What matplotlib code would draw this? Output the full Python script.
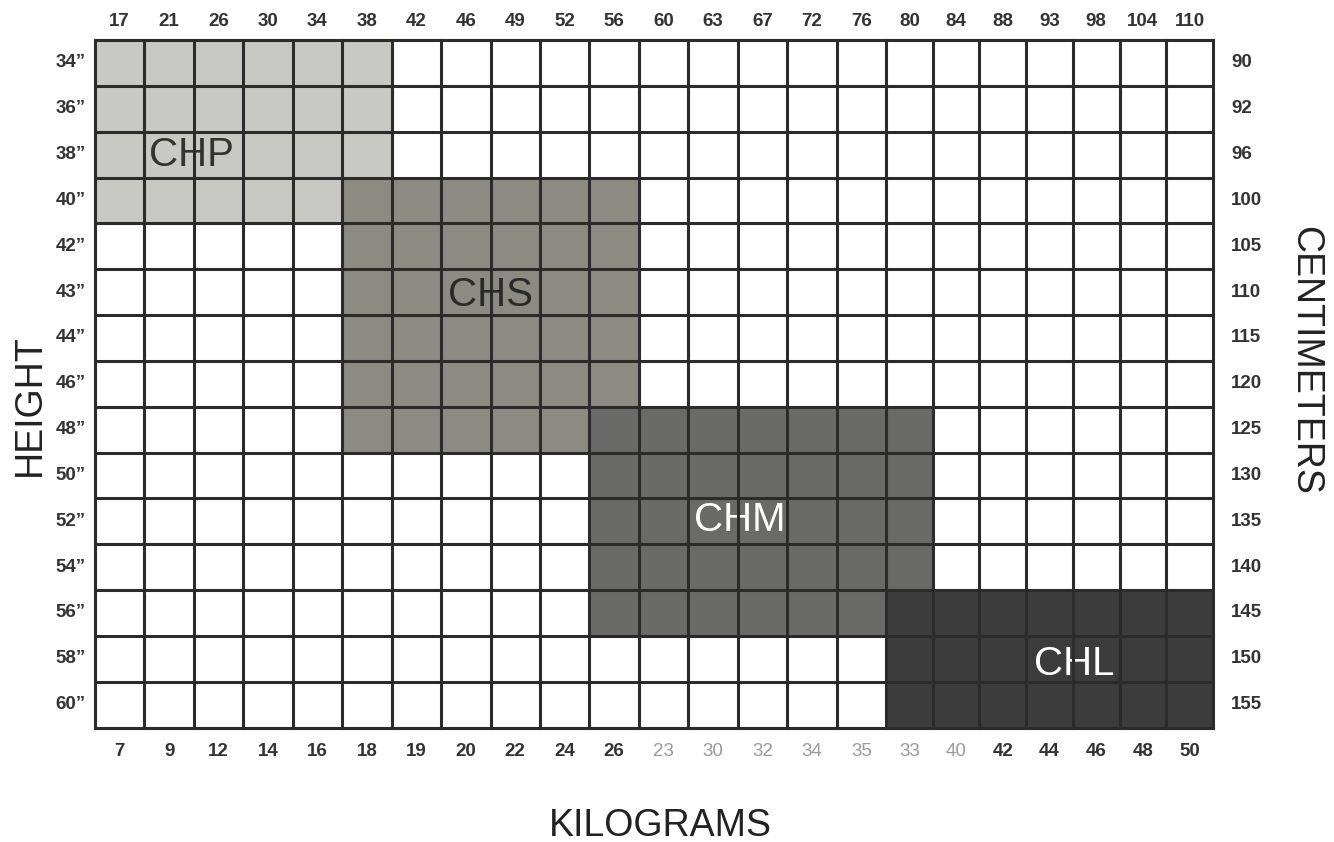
import numpy as np
import matplotlib.pyplot as plt
from matplotlib.patches import Rectangle

# weight columns (lbs on top, kg on bottom) and height rows
lbs = ["17", "21", "26", "30", "34", "38", "42", "46", "49", "52", "56", "60",
       "63", "67", "72", "76", "80", "84", "88", "93", "98", "104", "110"]
kgs = ["7", "9", "12", "14", "16", "18", "19", "20", "22", "24", "26", "23",
       "30", "32", "34", "35", "33", "40", "42", "44", "46", "48", "50"]
faint_kgs = [11, 12, 13, 14, 15, 16, 17]
inches = ["34", "36", "38", "40", "42", "43", "44", "46", "48", "50", "52",
          "54", "56", "58", "60"]
cms = ["90", "92", "96", "100", "105", "110", "115", "120", "125", "130",
       "135", "140", "145", "150", "155"]

# size zones: name, first col, last col, first row, last row
zones = ["CHP", "CHS", "CHM", "CHL"]
col_from = [0, 5, 10, 16]
col_to = [5, 10, 16, 22]
row_from = [0, 3, 8, 12]
row_to = [3, 8, 12, 14]
zone_colors = ["#c8c9c4", "#8b8b84", "#6a6a68", "#3c3c3c"]
text_colors = ["#333333", "#2a2a2a", "white", "white"]
label_col = [1.96, 8.0, 13.05, 20.02]
label_row = [2.51, 5.56, 10.47, 13.62]

FONT = ["Liberation Sans Narrow", "Liberation Sans", "DejaVu Sans"]
LINE = "#2b2b2b"
W, H = 1334, 842

ncols = len(lbs)
nrows = len(inches)

# the printed grid is a bit narrower in its last seven columns
col_w = np.array([49.44] * 16 + [46.7] * 7)
x_edges = 95 + np.concatenate([[0], np.cumsum(col_w)])
y_edges = np.linspace(40, 727.5, nrows + 1)
x_mid = (x_edges[:-1] + x_edges[1:]) / 2
y_mid = (y_edges[:-1] + y_edges[1:]) / 2


def cx(c):
    return np.interp(c, np.arange(ncols + 1), x_edges)


def cy(r):
    return np.interp(r, np.arange(nrows + 1), y_edges)


fig = plt.figure(figsize=(W / 100, H / 100), dpi=100)
ax = fig.add_axes([0, 0, 1, 1])
ax.set_xlim(0, W)
ax.set_ylim(H, 0)
ax.axis("off")

for i, name in enumerate(zones):
    x0, x1 = x_edges[col_from[i]], x_edges[col_to[i] + 1]
    y0, y1 = y_edges[row_from[i]], y_edges[row_to[i] + 1]
    ax.add_patch(Rectangle((x0, y0), x1 - x0, y1 - y0,
                           facecolor=zone_colors[i], edgecolor="none", zorder=i + 1))
    ax.text(cx(label_col[i]), cy(label_row[i]), name, ha="center", va="center",
            fontsize=29, color=text_colors[i], family="Liberation Sans", zorder=6)

# grid lines drawn over the zone labels, as in the print
for x in x_edges:
    ax.plot([x, x], [y_edges[0], y_edges[-1]], color=LINE, lw=2.2, zorder=8,
            solid_capstyle="projecting")
for y in y_edges:
    ax.plot([x_edges[0], x_edges[-1]], [y, y], color=LINE, lw=2.2, zorder=8,
            solid_capstyle="projecting")

for c in range(ncols):
    ax.text(x_mid[c], 21, lbs[c], ha="center", va="center", fontsize=13.5,
            fontweight="bold", color="#333333", family=FONT)
    faint = c in faint_kgs
    ax.text(x_mid[c], 751, kgs[c], ha="center", va="center", fontsize=13.5,
            fontweight="normal" if faint else "bold",
            color="#9a9a9a" if faint else "#333333", family=FONT)

for r in range(nrows):
    ax.text(86, y_mid[r], inches[r] + "\u201d", ha="right", va="center",
            fontsize=13.5, fontweight="bold", color="#333333", family=FONT)
    ax.text(1231, y_mid[r], cms[r], ha="left", va="center",
            fontsize=13.5, fontweight="bold", color="#333333", family=FONT)

ax.text(30, 405, "HEIGHT", rotation=90, ha="center", va="center",
        fontsize=27, color="#222222", family="Liberation Sans")
ax.text(1305, 360, "CENTIMETERS", rotation=270, ha="center", va="center",
        fontsize=27, color="#222222", family="Liberation Sans")
ax.text(660, 826, "KILOGRAMS", ha="center", va="center",
        fontsize=27, color="#222222", family="Liberation Sans")

fig.savefig("out.png", dpi=100)
